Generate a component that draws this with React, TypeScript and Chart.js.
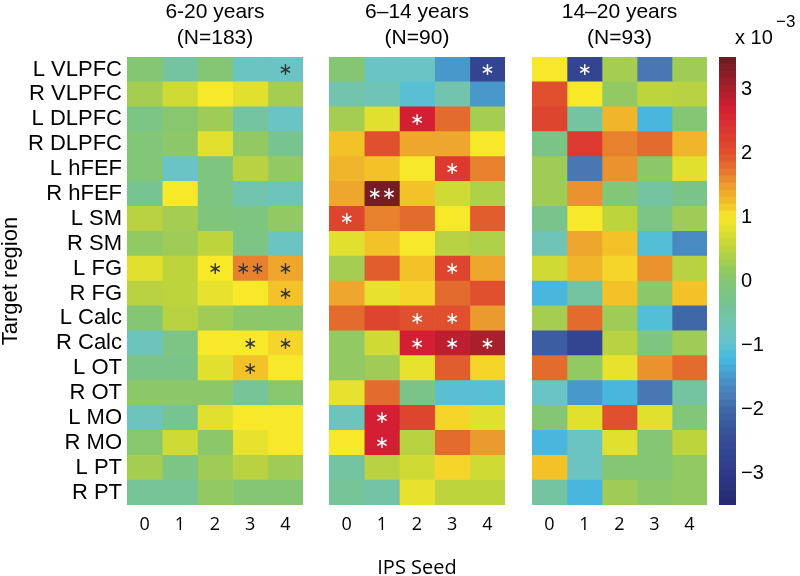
import React, { useEffect, useRef } from "react";
import { Chart, registerables } from "chart.js";

Chart.register(...registerables);

const regions = [
  "L VLPFC", "R VLPFC", "L DLPFC", "R DLPFC", "L hFEF", "R hFEF", "L SM", "R SM", "L FG",
  "R FG", "L Calc", "R Calc", "L OT", "R OT", "L MO", "R MO", "L PT", "R PT",
];
const seeds = [0, 1, 2, 3, 4];
const colorbarTicks = [-3, -2, -1, 0, 1, 2, 3];

// values x 10^-3, rows = regions, columns = seeds
const values6to20 = [
  [0, -0.5, 0, -0.85, -0.9],
  [0.3, 0.65, 1.0, 0.8, 0.3],
  [-0.2, 0.05, 0.25, -0.5, -0.9],
  [-0.05, 0.08, 0.8, 0.15, -0.35],
  [-0.05, -0.9, -0.15, 0.45, 0.15],
  [-0.35, 1.0, -0.15, -0.6, -0.8],
  [0.45, 0.3, -0.1, -0.15, 0.15],
  [0.15, 0.25, 0.5, -0.2, -0.85],
  [0.8, 0.5, 1.0, 1.65, 1.4],
  [0.45, 0.5, 0.85, 1.0, 1.2],
  [0, 0.45, 0.25, 0.08, 0.08],
  [-0.8, -0.2, 1.0, 1.0, 1.1],
  [-0.25, -0.25, 0.8, 1.2, 1.0],
  [0.08, 0.08, 0.08, -0.4, 0.05],
  [-0.8, -0.35, 0.8, 1.0, 1.0],
  [0.05, 0.65, 0.08, 0.85, 1.0],
  [0.3, -0.2, 0.25, 0.45, 0.25],
  [-0.4, -0.4, 0.15, 0, 0],
];
const values6to14 = [
  [0, -0.9, -0.9, -1.5, -2.7],
  [-0.6, -0.7, -1.05, -0.6, -1.5],
  [0.3, 0.8, 2.7, 1.8, 0.3],
  [1.2, 2.0, 1.4, 1.4, 1.0],
  [1.3, 1.2, 1.0, 2.3, 1.65],
  [1.4, 3.4, 1.2, 0.65, 0.38],
  [2.15, 1.65, 1.8, 1.0, 1.9],
  [0.8, 1.2, 1.0, 0.45, 0.38],
  [0.3, 1.9, 1.2, 2.15, 1.4],
  [1.4, 0.85, 1.1, 1.8, 2.0],
  [1.8, 2.15, 2.0, 2.0, 1.5],
  [0.15, 0.65, 2.7, 2.85, 3.0],
  [0.15, 0.25, 0.85, 1.9, 1.1],
  [0.85, 1.8, -0.25, -1.05, -1.05],
  [-0.8, 2.7, 2.15, 1.1, 0.8],
  [1.0, 2.7, 0.45, 1.8, 1.5],
  [-0.5, 0.45, 0.65, 1.1, 0.65],
  [-0.4, -0.55, 0.85, 0.5, 0.5],
];
const values14to20 = [
  [1.0, -2.7, 0.3, -1.85, 0.25],
  [2.0, 1.0, 0.15, 0.5, 0.45],
  [2.15, -0.5, 1.3, -1.25, 0],
  [-0.25, 2.3, 1.65, 1.8, 1.3],
  [0.25, -1.85, 1.55, 0.08, 0.8],
  [0.25, 1.55, -0.05, -0.5, -0.25],
  [-0.3, 1.0, 0.5, -0.2, 0.25],
  [-0.7, 1.4, 1.2, -1.1, -1.65],
  [0.65, 1.3, 1.1, 1.55, 0.45],
  [-1.25, -0.5, 1.2, 0.08, 1.2],
  [0.3, 1.8, 0.25, -1.1, -2.0],
  [-2.2, -2.7, 0.45, -0.15, 0.25],
  [1.8, 0.15, 0.85, 1.55, 1.8],
  [-0.9, -1.5, -1.25, -1.85, -0.5],
  [0, 0.8, 2.0, 0.8, -0.05],
  [-1.25, -0.85, 0.8, 0, 0.5],
  [1.2, -0.85, 0, 0, 0.15],
  [-0.5, -1.25, 0.25, 0.08, 0.15],
];

// significance marks: [row, column, label]
const stars6to20: [number, number, string][] = [
  [0, 4, "*"], [8, 2, "*"], [8, 3, "**"], [8, 4, "*"], [9, 4, "*"],
  [11, 3, "*"], [11, 4, "*"], [12, 3, "*"],
];
const stars6to14: [number, number, string][] = [
  [0, 4, "*"], [2, 2, "*"], [4, 3, "*"], [5, 1, "**"], [6, 0, "*"], [8, 3, "*"],
  [10, 2, "*"], [10, 3, "*"], [11, 2, "*"], [11, 3, "*"], [11, 4, "*"],
  [14, 1, "*"], [15, 1, "*"],
];
const stars14to20: [number, number, string][] = [[0, 1, "*"]];

const cmapStops: [number, string][] = [
  [-3.5, "#262a6e"], [-3.0, "#2e3a88"], [-2.5, "#364c96"], [-2.0, "#4068a8"],
  [-1.8, "#4a7cb8"], [-1.5, "#4898cc"], [-1.2, "#48bce0"], [-0.9, "#6ac4c6"],
  [-0.6, "#72c4ac"], [-0.3, "#78c48c"], [0, "#84c674"], [0.2, "#98ca5c"],
  [0.5, "#bed43c"], [0.8, "#e2e02e"], [1.0, "#f7e82a"], [1.2, "#f3c228"],
  [1.5, "#eb9a2e"], [1.7, "#e6782e"], [2.0, "#e0502e"], [2.3, "#dc3a30"],
  [2.7, "#d41e34"], [3.0, "#a8202c"], [3.5, "#6a1c22"],
];

const hexToRgb = (h: string) => [
  parseInt(h.slice(1, 3), 16), parseInt(h.slice(3, 5), 16), parseInt(h.slice(5, 7), 16),
];

function colorFor(v: number): string {
  if (v <= cmapStops[0][0]) return cmapStops[0][1];
  for (let i = 1; i < cmapStops.length; i++) {
    const [v1, c1] = cmapStops[i];
    if (v <= v1) {
      const [v0, c0] = cmapStops[i - 1];
      const t = (v - v0) / (v1 - v0);
      const a = hexToRgb(c0);
      const b = hexToRgb(c1);
      const m = a.map((x, k) => Math.round(x + (b[k] - x) * t));
      return `rgb(${m[0]},${m[1]},${m[2]})`;
    }
  }
  return cmapStops[cmapStops.length - 1][1];
}

const LABEL_FONT = "'Liberation Sans', Arial, Helvetica, sans-serif";
const TICK_FONT = "'Open Sans', 'Noto Sans', sans-serif";

type PanelProps = {
  left: number;
  width: number;
  padLeft: number;
  padRight: number;
  values: number[][];
  stars: [number, number, string][];
  starColor: string;
  title: string[];
  showY: boolean;
  showXTitle: boolean;
};

function Panel(p: PanelProps) {
  const ref = useRef<HTMLCanvasElement>(null);
  useEffect(() => {
    const starPlugin = {
      id: "stars",
      afterDatasetsDraw(chart: any) {
        const { ctx } = chart;
        const xs = chart.scales.x;
        const ys = chart.scales.y;
        ctx.save();
        ctx.fillStyle = p.starColor;
        ctx.font = `17px 'DejaVu Sans', sans-serif`;
        ctx.textAlign = "center";
        ctx.textBaseline = "middle";
        p.stars.forEach(([r, c, s]) => {
          const x = xs.getPixelForValue(seeds[c]);
          const y = ys.getPixelForValue(r);
          ctx.fillText(s.replace(/\*/g, "\u2217"), x, y + 1);
        });
        ctx.restore();
      },
    };
    const chart = new Chart(ref.current as HTMLCanvasElement, {
      type: "bar",
      data: {
        labels: regions,
        datasets: seeds.map((s, c) => ({
          data: regions.map(() => [s - 0.5, s + 0.5]),
          backgroundColor: p.values.map((row) => colorFor(row[c])),
          borderWidth: 0,
          barPercentage: 1,
          categoryPercentage: 1,
          grouped: false,
        })) as any,
      },
      options: {
        indexAxis: "y",
        responsive: false,
        animation: false,
        layout: { padding: { left: p.padLeft, right: p.padRight, top: 0, bottom: 0 } },
        plugins: { legend: { display: false }, tooltip: { enabled: false }, title: { display: false } },
        scales: {
          y: {
            type: "category",
            display: p.showY,
            offset: true,
            grid: { display: false, drawTicks: false },
            border: { display: false },
            ticks: { color: "#000", padding: 5, autoSkip: false, font: { family: LABEL_FONT, size: 22 } },
            title: {
              display: p.showY,
              text: "Target region",
              color: "#000",
              padding: 0,
              font: { family: LABEL_FONT, size: 22, lineHeight: 1 },
            },
            afterFit: (s: any) => {
              if (p.showY) s.width = 127;
            },
          },
          x: {
            type: "linear",
            position: "bottom",
            min: -0.5,
            max: 4.5,
            grid: { display: false, drawTicks: false },
            border: { display: false },
            afterBuildTicks: (s: any) => {
              s.ticks = seeds.map((v) => ({ value: v }));
            },
            ticks: { color: "#000", padding: 9, font: { family: TICK_FONT, size: 18 } },
            title: {
              display: p.showXTitle,
              text: "IPS Seed",
              color: "#000",
              padding: 0,
              font: { family: TICK_FONT, size: 20, lineHeight: 0.8 },
            },
            afterFit: (s: any) => {
              s.height = 71;
            },
          },
          x2: {
            type: "linear",
            position: "top",
            grid: { display: false, drawTicks: false },
            border: { display: false },
            ticks: { display: false },
            title: {
              display: true,
              text: p.title,
              color: "#000",
              padding: { top: 0, bottom: 0 },
              font: { family: LABEL_FONT, size: 21, lineHeight: 1.2 },
            },
            afterFit: (s: any) => {
              s.height = 57;
            },
          },
        },
      } as any,
      plugins: [starPlugin],
    });
    return () => chart.destroy();
  }, []);
  return (
    <canvas
      ref={ref}
      width={p.width}
      height={576}
      style={{ position: "absolute", left: p.left, top: 0, width: p.width, height: 576 }}
    />
  );
}

function ColorBar() {
  const ref = useRef<HTMLCanvasElement>(null);
  useEffect(() => {
    const lo = cmapStops[0][0];
    const hi = cmapStops[cmapStops.length - 1][0];
    const n = 64;
    const step = (hi - lo) / n;
    const segs = Array.from({ length: n }, (_, i) => [lo + i * step, lo + (i + 1) * step]);
    const expPlugin = {
      id: "exp",
      afterDraw(chart: any) {
        const { ctx } = chart;
        ctx.save();
        ctx.fillStyle = "#000";
        ctx.textAlign = "left";
        ctx.textBaseline = "alphabetic";
        ctx.font = `20px ${LABEL_FONT}`;
        ctx.fillText("x 10", 35, 44);
        ctx.font = `17px ${LABEL_FONT}`;
        ctx.fillText("\u22123", 76, 27);
        ctx.restore();
      },
    };
    const chart = new Chart(ref.current as HTMLCanvasElement, {
      type: "bar",
      data: {
        labels: [""],
        datasets: segs.map(([a, b]) => ({
          data: [[a, b]],
          backgroundColor: colorFor((a + b) / 2),
          borderWidth: 0,
          barPercentage: 1,
          categoryPercentage: 1,
          grouped: false,
        })) as any,
      },
      options: {
        responsive: false,
        animation: false,
        layout: { padding: { left: 19, right: 0, top: 57, bottom: 71 } },
        plugins: { legend: { display: false }, tooltip: { enabled: false } },
        scales: {
          x: { display: false },
          y: {
            type: "linear",
            position: "right",
            min: lo,
            max: hi,
            grid: { display: false, drawTicks: false },
            border: { display: false },
            afterBuildTicks: (s: any) => {
              s.ticks = colorbarTicks.map((v) => ({ value: v }));
            },
            ticks: {
              color: "#000",
              padding: 5,
              font: { family: LABEL_FONT, size: 20 },
              callback: (v: any) => (v < 0 ? "\u2212" + Math.abs(v) : String(v)),
            },
            afterFit: (s: any) => {
              s.width = 64;
            },
          },
        },
      } as any,
      plugins: [expPlugin],
    });
    return () => chart.destroy();
  }, []);
  return (
    <canvas
      ref={ref}
      width={100}
      height={576}
      style={{ position: "absolute", left: 700, top: 0, width: 100, height: 576 }}
    />
  );
}

export default function App() {
  return (
    <div style={{ position: "fixed", left: 0, top: 0, width: 800, height: 576, background: "#fff", overflow: "hidden" }}>
      <Panel left={0} width={310} padLeft={0} padRight={7} values={values6to20} stars={stars6to20}
        starColor="#333" title={["6-20 years", "(N=183)"]} showY={true} showXTitle={false} />
      <Panel left={320} width={192} padLeft={9} padRight={7} values={values6to14} stars={stars6to14}
        starColor="#fff" title={["6\u201314 years", "(N=90)"]} showY={false} showXTitle={true} />
      <Panel left={522} width={192} padLeft={10} padRight={7} values={values14to20} stars={stars14to20}
        starColor="#fff" title={["14\u201320 years", "(N=93)"]} showY={false} showXTitle={false} />
      <ColorBar />
    </div>
  );
}
